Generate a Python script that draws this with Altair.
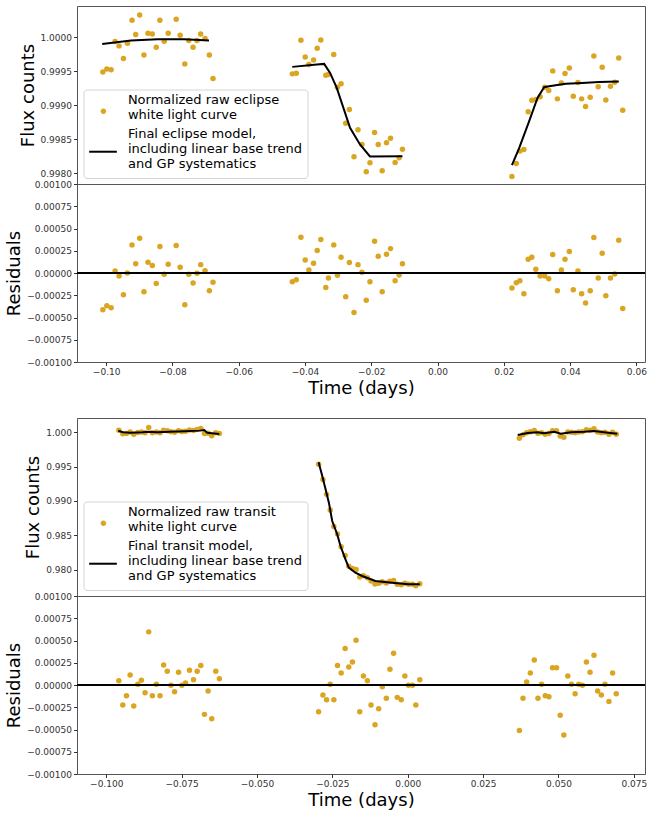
import altair as alt
import pandas as pd

GOLD = "#DAA520"

# ---------------- Eclipse (top) ----------------
ecl_time = [
    -0.10100, -0.09980, -0.09850, -0.09730, -0.09610, -0.09479, -0.09359, -0.09219, -0.09109,
    -0.08989, -0.08859, -0.08738, -0.08608, -0.08488, -0.08378, -0.08248, -0.08128, -0.07887,
    -0.07767, -0.07627, -0.07507, -0.07377, -0.07257, -0.07147, -0.07016, -0.06886, -0.06776,
    -0.04383, -0.04263, -0.04123, -0.03993, -0.03883, -0.03742, -0.03632, -0.03522, -0.03372,
    -0.03292, -0.03132, -0.03022, -0.02911, -0.02771, -0.02661, -0.02521, -0.02401, -0.02281,
    -0.02151, -0.02040, -0.01900, -0.01790, -0.01670, -0.01540, -0.01420, -0.01280, -0.01159,
    -0.01059,
    0.02245, 0.02375, 0.02485, 0.02605, 0.02735, 0.02845, 0.02965, 0.03095, 0.03236,
    0.03356, 0.03476, 0.03616, 0.03736, 0.03846, 0.03976, 0.04096, 0.04237, 0.04347,
    0.04467, 0.04607, 0.04717, 0.04848, 0.04968, 0.05078, 0.05218, 0.05348, 0.05468,
    0.05588,
]
ecl_flux = [
    0.999490, 0.999534, 0.999520, 0.999936, 0.999873, 0.999686, 0.999912, 1.000250, 1.000039,
    1.000328, 0.999740, 1.000059, 1.000049, 0.999853, 1.000250, 0.999941, 1.000059, 1.000265,
    1.000029, 0.999608, 0.999951, 0.999853, 0.999951, 1.000049, 0.999980, 0.999740, 0.999392,
    0.999461, 0.999471, 0.999956, 0.999711, 0.999598, 0.999667, 0.999838, 0.999961, 0.999441,
    0.999451, 0.999745, 0.999265, 0.999314, 0.998735, 0.998936, 0.998240, 0.998637, 0.998422,
    0.998020, 0.998152, 0.998598, 0.998422, 0.998034, 0.998446, 0.998515, 0.998157, 0.998225,
    0.998353,
    0.997951, 0.998142, 0.998324, 0.998348, 0.998902, 0.999074, 0.999083, 0.999123, 0.999265,
    0.999216, 0.999505, 0.999093, 0.999328, 0.999466, 0.999549, 0.999132, 0.999333, 0.999093,
    0.998980, 0.999118, 0.999725, 0.999270, 0.999559, 0.999078, 0.999279, 0.999338, 0.999696,
    0.998926,
]
ecl_resid = [
    -0.000414, -0.000368, -0.000391, 0.000023, -0.000034, -0.000244, 0.000000, 0.000316, 0.000105,
    0.000391, -0.000211, 0.000120, 0.000083, -0.000117, 0.000297, -0.000015, 0.000098, 0.000308,
    0.000064, -0.000357, -0.000015, -0.000113, -0.000004, 0.000094, 0.000026, -0.000199, -0.000105,
    -0.000098, -0.000075, 0.000402, 0.000147, 0.000034, 0.000109, 0.000252, 0.000376, -0.000162,
    -0.000056, 0.000316, -0.000026, 0.000177, -0.000267, 0.000117, -0.000444, 0.000094, 0.000008,
    -0.000305, -0.000098, 0.000357, 0.000188, -0.000211, 0.000211, 0.000274, -0.000087, -0.000023,
    0.000105,
    -0.000169, -0.000109, -0.000087, -0.000233, 0.000154, 0.000177, 0.000041, -0.000034, -0.000034,
    -0.000064, 0.000207, -0.000199, 0.000034, 0.000154, 0.000241, -0.000188, 0.000023, -0.000233,
    -0.000338, -0.000199, 0.000398, -0.000056, 0.000222, -0.000256, -0.000056, -0.000011, 0.000368,
    -0.000398,
]
ecl_model_time = [
    -0.10120, -0.09249, -0.08448, -0.07647, -0.06896,
    -0.04383, -0.03642, -0.03422, -0.03242, -0.03042, -0.02841, -0.02641, -0.02341, -0.02040, -0.01059,
    0.02245, 0.02465, 0.02765, 0.03016, 0.03216, 0.03366, 0.03867, 0.04367, 0.04868, 0.05469,
]
ecl_model_flux = [
    0.999902, 0.999951, 0.999971, 0.999971, 0.999951,
    0.999564, 0.999598, 0.999608, 0.999475, 0.999255, 0.998961, 0.998667, 0.998422, 0.998245, 0.998250,
    0.998118, 0.998373, 0.998765, 0.999108, 0.999265, 0.999279, 0.999314, 0.999328, 0.999343, 0.999348,
]
ecl_model_seg = [1] * 5 + [2] * 10 + [3] * 10

ecl_x_ticks = [-0.10, -0.08, -0.06, -0.04, -0.02, 0.00, 0.02, 0.04, 0.06]
ecl_flux_ticks = [0.9980, 0.9985, 0.9990, 0.9995, 1.0000]
ecl_x_domain = [-0.1088, 0.0626]
ecl_flux_domain = [0.99784, 1.00046]
ecl_pts_label = "Normalized raw eclipse|white light curve"
ecl_line_label = "Final eclipse model,|including linear base trend|and GP systematics"

# ---------------- Transit (bottom) ----------------
tr_time = [
    -0.09582, -0.09450, -0.09329, -0.09208, -0.09087, -0.08954, -0.08833, -0.08712, -0.08591,
    -0.08470, -0.08338, -0.08217, -0.08096, -0.07975, -0.07854, -0.07733, -0.07601, -0.07491,
    -0.07370, -0.07238, -0.07105, -0.06984, -0.06863, -0.06742, -0.06621, -0.06500, -0.06368,
    -0.06247,
    -0.02956, -0.02813, -0.02692, -0.02571, -0.02450, -0.02329, -0.02208, -0.02076, -0.01955,
    -0.01834, -0.01713, -0.01591, -0.01470, -0.01338, -0.01217, -0.01085, -0.00964, -0.00843,
    -0.00711, -0.00590, -0.00469, -0.00348, -0.00216, -0.00095, 0.00026, 0.00158, 0.00268,
    0.00400,
    0.03703, 0.03824, 0.03945, 0.04066, 0.04198, 0.04320, 0.04441, 0.04562, 0.04683,
    0.04804, 0.04936, 0.05057, 0.05178, 0.05310, 0.05431, 0.05552, 0.05673, 0.05794,
    0.05926, 0.06047, 0.06179, 0.06300, 0.06421, 0.06542, 0.06674, 0.06795, 0.06916,
]
tr_flux = [
    1.00024, 0.99974, 0.99980, 0.99999, 0.99966, 0.99993, 1.00000, 0.99988, 1.00064,
    0.99990, 0.99999, 0.99988, 1.00024, 1.00018, 1.00004, 0.99998, 1.00020, 1.00008,
    1.00012, 1.00028, 1.00022, 1.00035, 1.00050, 0.99977, 0.99981, 0.99944, 0.99991,
    0.99979,
    0.99532, 0.99313, 0.99096, 0.98871, 0.98630, 0.98523, 0.98336, 0.98209, 0.98054,
    0.98020, 0.98006, 0.97900, 0.97916, 0.97889, 0.97842, 0.97798, 0.97809, 0.97829,
    0.97810, 0.97837, 0.97849, 0.97794, 0.97785, 0.97807, 0.97793, 0.97793, 0.97771,
    0.97799,
    0.99911, 0.99959, 0.99988, 1.00003, 1.00021, 0.99981, 0.99991, 0.99969, 0.99977,
    1.00019, 1.00020, 0.99941, 0.99924, 1.00000, 0.99997, 0.99988, 1.00001, 1.00003,
    1.00034, 1.00025, 1.00047, 1.00000, 0.99990, 0.99996, 0.99967, 0.99995, 0.99966,
]
tr_resid = [
    0.000049, -0.000225, -0.000120, 0.000113, -0.000236, 0.000008, 0.000053, -0.000086, 0.000597,
    -0.000120, 0.000008, -0.000120, 0.000225, 0.000154, -0.000004, -0.000075, 0.000143, -0.000004,
    0.000023, 0.000165, 0.000060, 0.000154, 0.000218, -0.000330, -0.000068, -0.000379, 0.000154,
    0.000071,
    -0.000300, -0.000113, -0.000165, 0.000008, -0.000165, 0.000218, 0.000135, 0.000409, 0.000203,
    0.000259, 0.000503, -0.000300, 0.000101, 0.000049, -0.000225, -0.000447, -0.000266, -0.000019,
    -0.000150, 0.000176, 0.000356, -0.000139, -0.000165, 0.000101, -0.000004, -0.000004, -0.000225,
    0.000060,
    -0.000510, -0.000150, 0.000034, 0.000135, 0.000281, -0.000150, 0.000008, -0.000120, -0.000131,
    0.000195, 0.000195, -0.000341, -0.000563, 0.000101, 0.000008, -0.000098, 0.000008, -0.000004,
    0.000259, 0.000143, 0.000334, -0.000068, -0.000113, 0.000008, -0.000184, 0.000135, -0.000098,
]
tr_model_time = [
    -0.0960, -0.0945, -0.0920, -0.0880, -0.0860, -0.0830, -0.0790, -0.0740, -0.0690, -0.0675, -0.0665, -0.0625,
    -0.02956, -0.02835, -0.02725, -0.02615, -0.02505, -0.02340, -0.02230, -0.02065, -0.01955, -0.01735,
    -0.01514, -0.01074, -0.00524, 0.00026, 0.00400,
    0.03648, 0.03978, 0.04308, 0.04528, 0.04858, 0.05078, 0.05408, 0.05849, 0.06179, 0.06509, 0.06949,
]
tr_model_flux = [
    1.00019, 0.99996, 0.99988, 0.99996, 1.00004, 0.99998, 1.00004, 1.00010, 1.00020, 1.00028, 0.99990, 0.99972,
    0.99562, 0.99362, 0.99170, 0.98976, 0.98710, 0.98518, 0.98348, 0.98155, 0.98034, 0.97961,
    0.97913, 0.97841, 0.97816, 0.97793, 0.97793,
    0.99957, 0.99986, 0.99996, 0.99981, 1.00004, 0.99975, 0.99996, 1.00004, 1.00014, 0.99996, 0.99975,
]
tr_model_seg = [1] * 12 + [2] * 15 + [3] * 11

tr_x_ticks = [-0.100, -0.075, -0.050, -0.025, 0.000, 0.025, 0.050, 0.075]
tr_flux_ticks = [0.980, 0.985, 0.990, 0.995, 1.000]
tr_x_domain = [-0.1097, 0.0787]
tr_flux_domain = [0.97623, 1.00203]
tr_pts_label = "Normalized raw transit|white light curve"
tr_line_label = "Final transit model,|including linear base trend|and GP systematics"

resid_ticks = [-0.001, -0.00075, -0.0005, -0.00025, 0.0, 0.00025, 0.0005, 0.00075, 0.001]
resid_domain = [-0.001, 0.001]

W, H = 568, 178
FONT = "DejaVu Sans"
# legend symbols drawn a little below the first label line (custom symbol paths)
DOT_SYMBOL = "M-1,4A1,1 0 1,1 1,4A1,1 0 1,1 -1,4Z"
LINE_SYMBOL = "M-1,1.28L1,1.28"


def panel_group(time, flux, resid, mt, mf, mseg, xdom, xticks, xfmt, fdom, fticks, ffmt,
                pts_label, line_label):
    pts = pd.DataFrame({"t": time, "f": flux, "r": resid, "lab": [pts_label] * len(time)})
    mod = pd.DataFrame({"t": mt, "f": mf, "seg": mseg, "lab": [line_label] * len(mt)})
    xs = alt.Scale(domain=xdom, nice=False, zero=False)
    fy = alt.Y("f:Q", scale=alt.Scale(domain=fdom, nice=False, zero=False),
               axis=alt.Axis(values=fticks, format=ffmt, title="Flux counts", labelOverlap=False))
    points = alt.Chart(pts).mark_circle(size=30, opacity=1).encode(
        x=alt.X("t:Q", scale=xs, axis=None),
        y=fy,
        fill=alt.Fill("lab:N", scale=alt.Scale(domain=[pts_label], range=[GOLD]),
                      legend=alt.Legend(title=None, orient="none", legendX=19.9, legendY=87.8,
                                        labelExpr="split(datum.label, '|')", labelFontSize=13,
                                        labelFont=FONT, labelColor="black", symbolType=DOT_SYMBOL,
                                        symbolSize=30, symbolStrokeWidth=0, labelOffset=18,
                                        padding=0, labelLimit=400)),
    )
    line = alt.Chart(mod).mark_line(strokeWidth=2).encode(
        x=alt.X("t:Q", scale=xs, axis=None),
        y=fy,
        detail="seg:N",
        stroke=alt.Stroke("lab:N", scale=alt.Scale(domain=[line_label], range=["black"]),
                          legend=alt.Legend(title=None, orient="none", legendX=11, legendY=113,
                                            labelExpr="split(datum.label, '|')", labelFontSize=13,
                                            labelFont=FONT, labelColor="black", symbolType=LINE_SYMBOL,
                                            symbolSize=767, symbolStrokeWidth=2, labelOffset=10,
                                            padding=0, labelLimit=400)),
    )
    box = alt.Chart(pd.DataFrame({"k": [0]})).mark_rect(
        fill="white", fillOpacity=0.8, stroke="#d4d4d4", strokeWidth=1, cornerRadius=3
    ).encode(x=alt.value(7), x2=alt.value(231), y=alt.value(84), y2=alt.value(172.5))
    flux_chart = alt.layer(points, line, box).properties(width=W, height=H)

    raxis = alt.Axis(values=resid_ticks, format=".5f", title="Residuals", labelOverlap=False)
    rscale = alt.Scale(domain=resid_domain, nice=False, zero=False)
    rpts = alt.Chart(pts).mark_circle(size=30, opacity=1, color=GOLD).encode(
        x=alt.X("t:Q", scale=xs, axis=alt.Axis(values=xticks, format=xfmt, title="Time (days)",
                                               labelOverlap=False)),
        y=alt.Y("r:Q", scale=rscale, axis=raxis),
    )
    zero = alt.Chart(pd.DataFrame({"r": [0.0]})).mark_rule(color="black", strokeWidth=2).encode(
        y=alt.Y("r:Q", scale=rscale, axis=raxis)
    )
    resid_chart = alt.layer(rpts, zero).properties(width=W, height=H)
    return alt.vconcat(flux_chart, resid_chart, spacing=0, bounds="flush").resolve_scale(
        fill="independent", stroke="independent"
    ).resolve_legend(fill="independent", stroke="independent")


top = panel_group(ecl_time, ecl_flux, ecl_resid, ecl_model_time, ecl_model_flux, ecl_model_seg,
                  ecl_x_domain, ecl_x_ticks, ".2f", ecl_flux_domain, ecl_flux_ticks, ".4f",
                  ecl_pts_label, ecl_line_label)
bottom = panel_group(tr_time, tr_flux, tr_resid, tr_model_time, tr_model_flux, tr_model_seg,
                     tr_x_domain, tr_x_ticks, ".3f", tr_flux_domain, tr_flux_ticks, ".3f",
                     tr_pts_label, tr_line_label)

chart = alt.vconcat(top, bottom, spacing=19).resolve_scale(
    fill="independent", stroke="independent"
).resolve_legend(fill="independent", stroke="independent").properties(
    padding={"left": 5, "top": 5, "right": 0, "bottom": 0}, background="white"
).configure_view(stroke="#555555", strokeWidth=1).configure_axis(
    grid=False, domain=False, labelFont=FONT, labelFontSize=9, labelColor="#333333",
    tickColor="#333333", tickSize=3.5, labelPadding=2, titleFont=FONT, titleFontSize=18,
    titleFontWeight="normal", titleColor="black", titlePadding=3, labelOverlap=False
)

chart.save("out.html", embed_options={"renderer": "svg", "actions": False})
